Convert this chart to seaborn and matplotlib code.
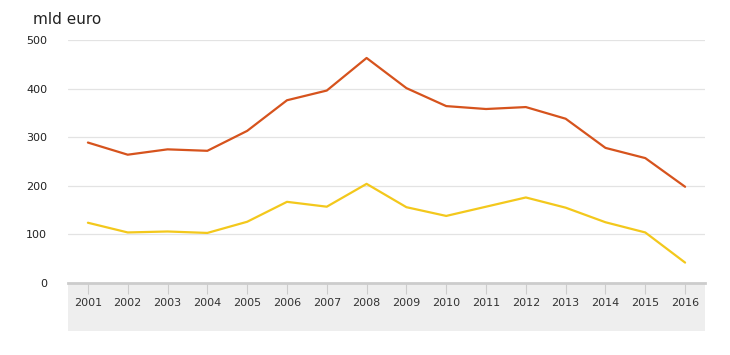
import matplotlib
matplotlib.use("Agg")
import matplotlib.pyplot as plt
import seaborn as sns
import pandas as pd
from matplotlib.patches import Rectangle

years = [str(y) for y in range(2001, 2017)]
series_red = [289, 264, 275, 272, 313, 376, 396, 463, 401, 364, 358, 362, 338, 278, 257, 198]
series_yellow = [124, 104, 106, 103, 126, 167, 157, 204, 156, 138, 157, 176, 155, 125, 104, 42]
yticks = [0, 100, 200, 300, 400, 500]

df = pd.DataFrame({
    "year": years * 2,
    "value": series_red + series_yellow,
    "series": ["A"] * len(years) + ["B"] * len(years),
})

sns.set_style("white")
plt.rcParams["font.family"] = ["DejaVu Sans"]

fig = plt.figure(figsize=(7.3, 3.55), dpi=100)

band = Rectangle((68/730, 1-331/355), (705-68)/730, (331-283)/355,
                 transform=fig.transFigure, facecolor="#eeeeee", edgecolor="none", zorder=-5)
fig.patches.append(band)

ax = fig.add_axes([68/730, 1-283/355, (705-68)/730, (283-40)/355])
ax.set_zorder(5)
ax.patch.set_alpha(0)

sns.lineplot(data=df, x="year", y="value", hue="series",
             palette={"A": "#d6531d", "B": "#f3c81c"}, linewidth=1.6,
             legend=False, ax=ax, sort=False)

ax.set_xlim(-0.5, len(years) - 0.5)
ax.set_ylim(0, 500)
ax.set_yticks(yticks)
ax.set_yticklabels([str(v) for v in yticks], fontsize=8, color="#222222")
ax.yaxis.grid(True, color="#e3e3e3", linewidth=0.9)
ax.set_axisbelow(True)
ax.tick_params(axis="y", length=0, pad=15)

ax.set_xticks(range(len(years)))
ax.set_xticklabels(years, fontsize=8, color="#333333")
ax.tick_params(axis="x", which="major", bottom=True, length=8, width=0.8,
               color="#cccccc", direction="out", pad=3)

for s in ["top", "right", "left"]:
    ax.spines[s].set_visible(False)
ax.spines["bottom"].set_color("#cccccc")
ax.spines["bottom"].set_linewidth(2)
ax.set_xlabel("")
ax.set_ylabel("")

fig.text(33/730, 1-20/355, "mld euro", fontsize=11, color="#222222", va="center", ha="left")

fig.savefig("out.png", dpi=100)
